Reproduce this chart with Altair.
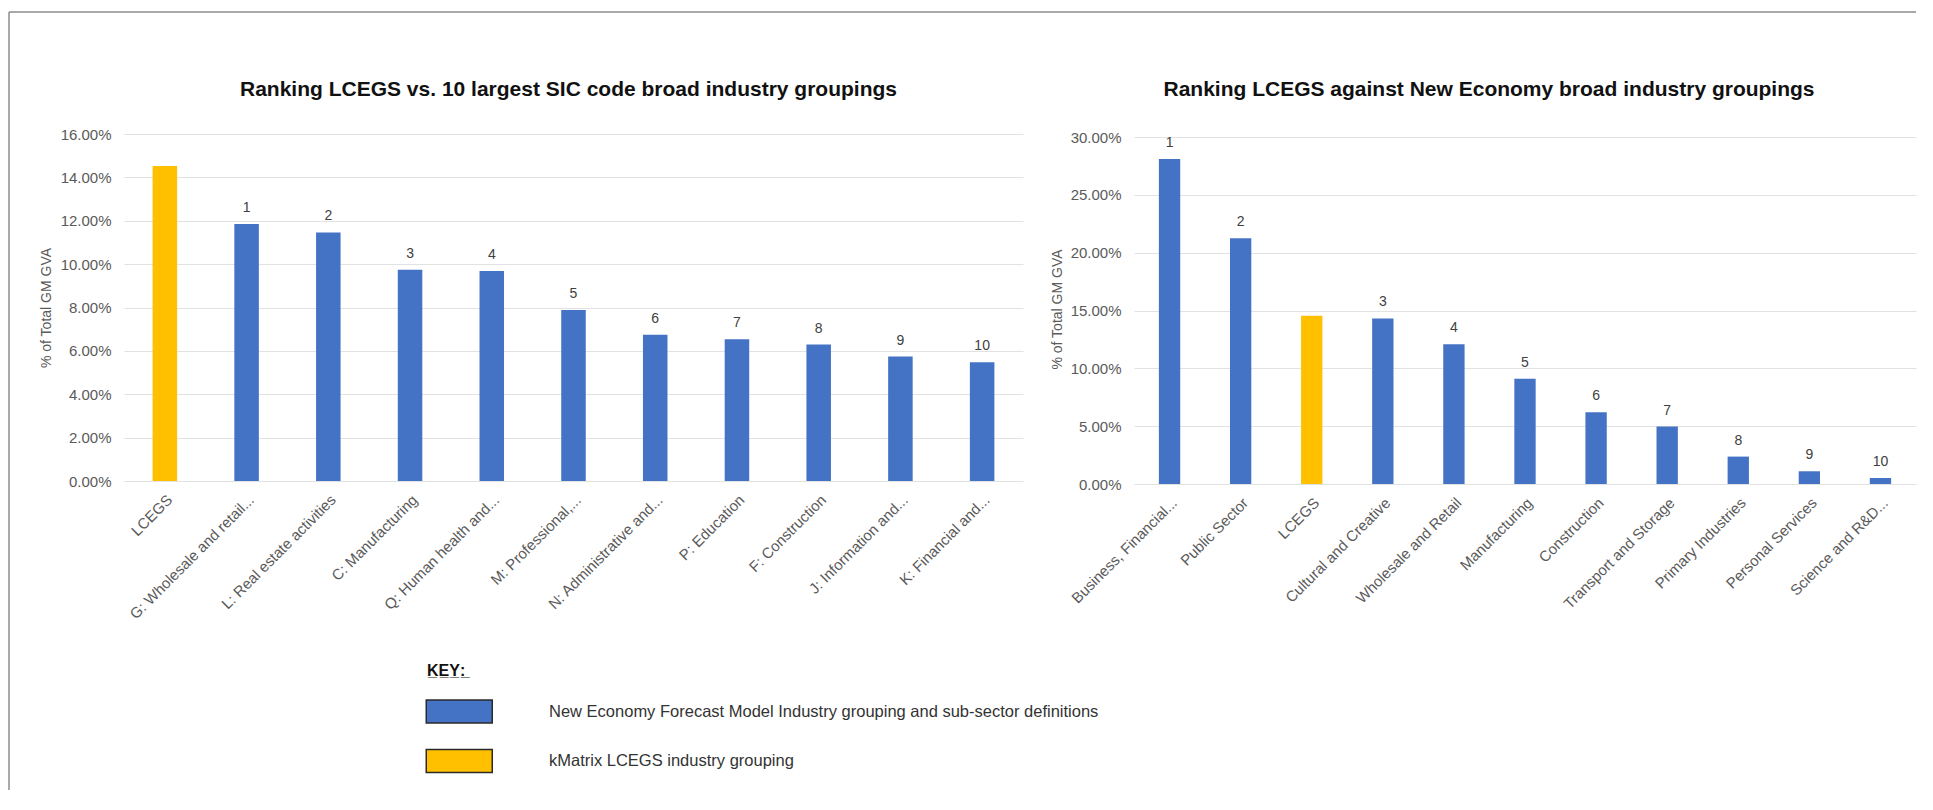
import altair as alt
import pandas as pd

FONT = "Liberation Sans, Arial, sans-serif"
NE_LABEL = "New Economy Forecast Model Industry grouping and sub-sector definitions"
KM_LABEL = "kMatrix LCEGS industry grouping"
BLUE = "#4472C4"
YELLOW = "#FFC000"
FRAME = "#8c8c8c"

# ---- left panel data ----
left_categories = [
    "LCEGS",
    "G: Wholesale and retail...",
    "L: Real estate activities",
    "C: Manufacturing",
    "Q: Human health and...",
    "M: Professional,...",
    "N: Administrative and...",
    "P: Education",
    "F: Construction",
    "J: Information and...",
    "K: Financial and...",
]
left_values = [14.52, 11.85, 11.46, 9.74, 9.68, 7.89, 6.74, 6.54, 6.29, 5.74, 5.47]
left_ranks = ["", "1", "2", "3", "4", "5", "6", "7", "8", "9", "10"]
left_ticks = [0, 2, 4, 6, 8, 10, 12, 14, 16]

# ---- right panel data ----
right_categories = [
    "Business, Financial...",
    "Public Sector",
    "LCEGS",
    "Cultural and Creative",
    "Wholesale and Retail",
    "Manufacturing",
    "Construction",
    "Transport and Storage",
    "Primary Industries",
    "Personal Services",
    "Science and R&D...",
]
right_values = [28.1, 21.25, 14.54, 14.31, 12.09, 9.11, 6.2, 4.97, 2.37, 1.1, 0.52]
right_ranks = ["1", "2", "", "3", "4", "5", "6", "7", "8", "9", "10"]
right_ticks = [0, 5, 10, 15, 20, 25, 30]

legend = alt.Legend(
    orient="none",
    legendX=303,
    legendY=529,
    title="K\u0332E\u0332Y\u0332:\u0332",
    titleFont=FONT,
    titleFontSize=16,
    titleFontWeight="bold",
    titleColor="#111111",
    titlePadding=20,
    labelFont=FONT,
    labelFontSize=16.5,
    labelColor="#333333",
    labelLimit=800,
    labelOffset=97,
    symbolType="M-1.152,-1H4.587V1H-1.152Z",
    symbolSize=529,
    symbolStrokeColor="#2a2a2a",
    symbolStrokeWidth=1.5,
    symbolOpacity=1,
    rowPadding=20.5,
)

color_scale = alt.Scale(domain=[NE_LABEL, KM_LABEL], range=[BLUE, YELLOW])


def panel(cats, vals, ranks, ticks, title, width, height, ymax, title_dx,
          ytitle_x, rules):
    df = pd.DataFrame({
        "category": cats,
        "value": vals,
        "rank": ranks,
        "group": [KM_LABEL if c == "LCEGS" else NE_LABEL for c in cats],
    })
    base = alt.Chart(df)
    x_enc = alt.X(
        "category:N", sort=None, title=None,
        scale=alt.Scale(paddingInner=0.7, paddingOuter=0.35),
        axis=alt.Axis(
            labelAngle=315, labelAlign="right", labelBaseline="top",
            labelFont=FONT, labelFontSize=15, labelColor="#5a5a5a",
            labelPadding=11, ticks=False, tickSize=0, domain=False,
            grid=False, labelLimit=400,
        ),
    )
    y_enc = alt.Y(
        "value:Q", title="% of Total GM GVA",
        scale=alt.Scale(domain=[0, ymax], nice=False, zero=True),
        axis=alt.Axis(
            values=ticks,
            labelExpr="format(datum.value, '.2f') + '%'",
            labelFont=FONT, labelFontSize=15, labelColor="#5a5a5a",
            labelPadding=13, ticks=False, tickSize=0, domain=False,
            grid=True, gridColor="#e2e2e2", gridWidth=1,
            titleFont=FONT, titleFontSize=14, titleFontWeight="normal",
            titleColor="#5a5a5a", titleAngle=270, titleAlign="center",
            titleBaseline="middle", titleX=ytitle_x, titleY=height / 2,
        ),
    )
    bars = base.mark_bar().encode(
        x=x_enc,
        y=y_enc,
        color=alt.Color("group:N", scale=color_scale, legend=legend),
    )
    labels = base.mark_text(
        baseline="bottom", dy=-9, font=FONT, fontSize=14, color="#404040"
    ).encode(
        x=alt.X("category:N", sort=None),
        y=alt.Y("value:Q"),
        text="rank:N",
    )
    layers = [bars, labels] + rules
    return alt.layer(*layers).properties(
        width=width,
        height=height,
        title=alt.TitleParams(
            text=title, font=FONT, fontSize=21, fontWeight="bold",
            color="#111111", anchor="middle", frame="group",
            baseline="middle", offset=-100, dx=title_dx,
        ),
    )


one_row = alt.Data(values=[{"k": 0}])
left_rules = [
    alt.Chart(one_row).mark_rule(color=FRAME, strokeWidth=1.5).encode(
        x=alt.value(-115), y=alt.value(-122), y2=alt.value(656)),
    alt.Chart(one_row).mark_rule(color=FRAME, strokeWidth=1.5).encode(
        x=alt.value(-115), x2=alt.value(1005), y=alt.value(-122)),
]
right_rules = [
    alt.Chart(one_row).mark_rule(color=FRAME, strokeWidth=1.5).encode(
        x=alt.value(-5), x2=alt.value(782), y=alt.value(-122)),
]

left = panel(left_categories, left_values, left_ranks, left_ticks,
             "Ranking LCEGS vs. 10 largest SIC code broad industry groupings",
             899, 347, 16, -5, -78, left_rules)
right = panel(right_categories, right_values, right_ranks, right_ticks,
              "Ranking LCEGS against New Economy broad industry groupings",
              782, 350, 30.26, -36, -77, right_rules)

chart = alt.hconcat(left, right, spacing=111, bounds="flush").properties(
    padding={"left": 0, "top": 3, "right": 0, "bottom": 0},
    background="white",
).configure_view(stroke=None)

chart.save("out.html", embed_options={"renderer": "svg", "actions": False})
